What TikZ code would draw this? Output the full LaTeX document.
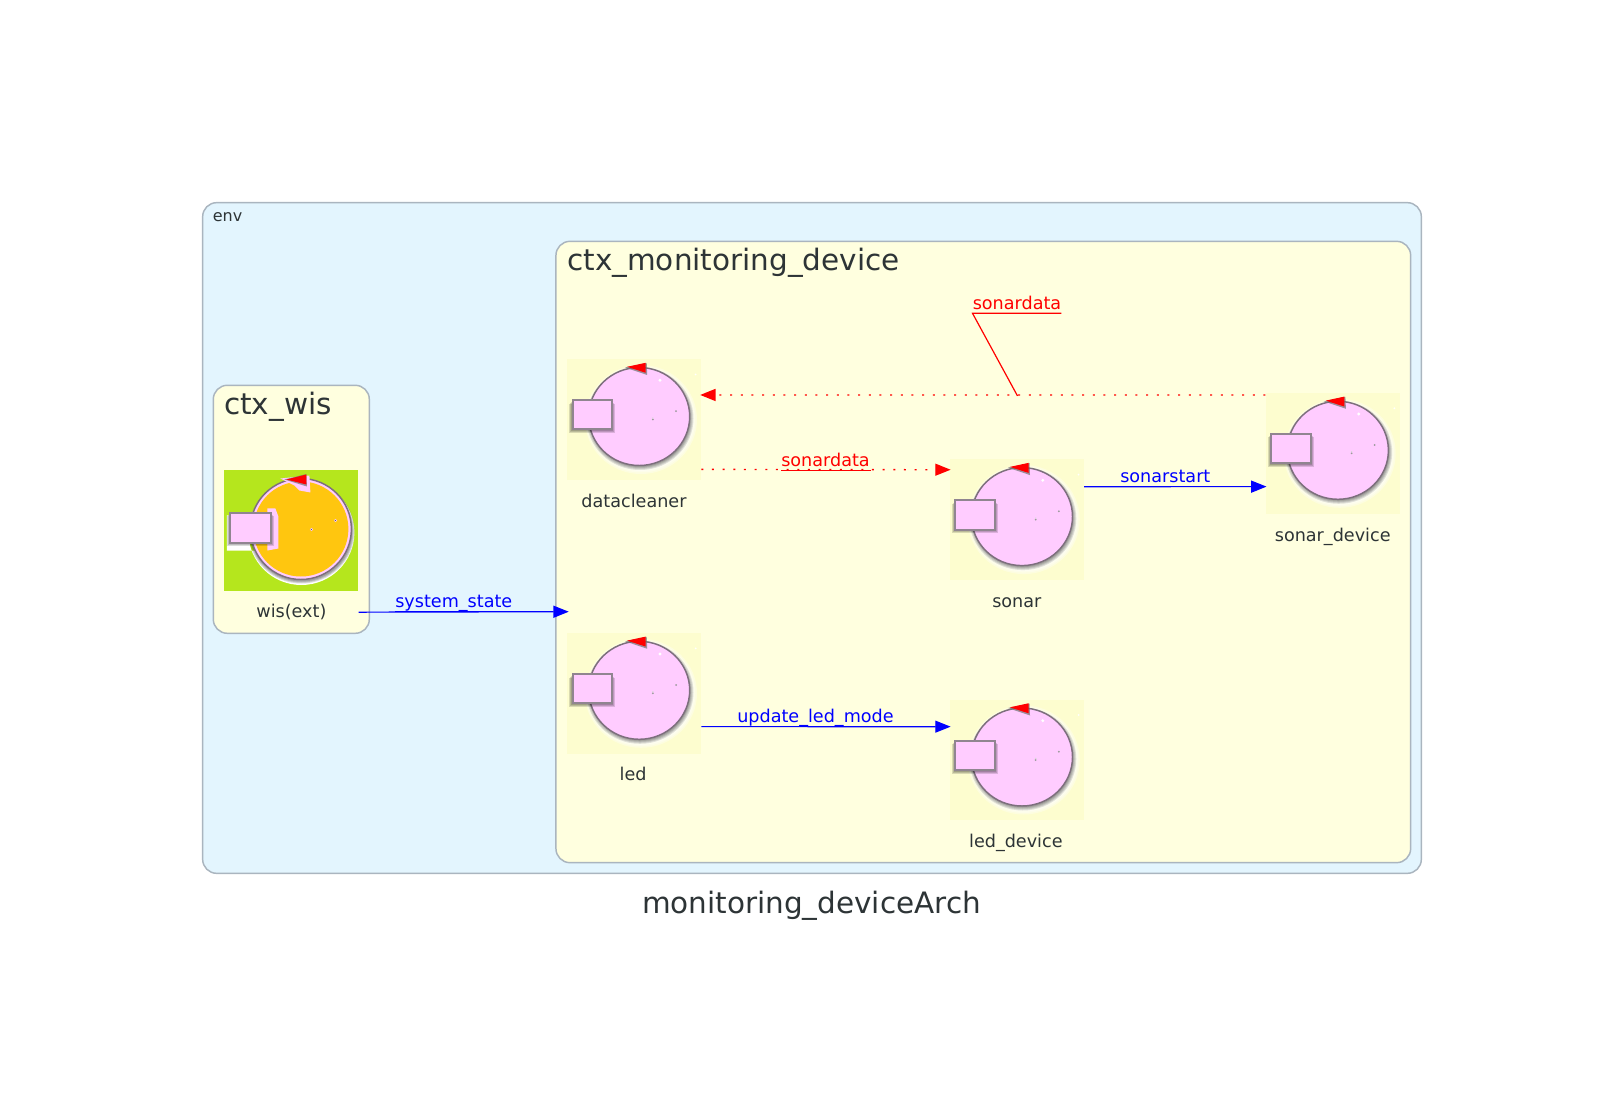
\documentclass[tikz,border=0pt]{standalone}
\usepackage{fontspec}
\setmainfont{DejaVu Sans}
\usetikzlibrary{arrows.meta}
\definecolor{envfill}{HTML}{E3F5FE}
\definecolor{ctxfill}{HTML}{FFFFDF}
\definecolor{edgegray}{HTML}{AAB5BF}
\definecolor{inktext}{HTML}{2D3436}
\definecolor{tilefill}{HTML}{FDFDCF}
\definecolor{wisgreen}{HTML}{B5E61D}
\definecolor{wisorange}{HTML}{FFC60F}
\definecolor{bodypink}{HTML}{FFCCFF}
\definecolor{ringgray}{HTML}{7D6F7D}
\tikzset{
  ctxbox/.style={draw=edgegray,line width=1.1pt,rounded corners=10.5pt},
  tilebox/.style={minimum width=100.5pt,minimum height=90.5pt,inner sep=0pt,fill=tilefill},
  caption/.style={text=inktext,font=\fontsize{13.2}{16}\selectfont,text height=10pt,text depth=3pt},
  bigtitle/.style={text=inktext,font=\fontsize{22.1}{26}\selectfont,inner sep=0pt},
  msglabel/.style={font=\fontsize{13.2}{16}\selectfont,inner sep=0pt,anchor=south west,text depth=3pt},
  pics/softglow/.style={code={
    \foreach \rad in {56,54.5,53,51.5}{\fill[white,opacity=.35] (7,0) ellipse ({\rad} and {\rad-1.5});}
    \foreach \rad in {53.5,52.5,51.5,50.5}{\fill[black,opacity=.11] (6,-1) ellipse ({\rad} and {\rad-2});}
  }},
  pics/sysicon/.style={code={
    \pic {softglow};
    \fill[#1,draw=ringgray,line width=1.1pt] (5.2,-3) ellipse (50.5 and 49);
    \fill[white] (26,-39.3) circle (1.6) (61.7,-45) circle (1);
    \fill[black!40] (18.9,0) circle (1) (42,-8.3) circle (1);
    \fill[white!85!black] (18.9,-1.5) circle (.8);
    \foreach \gap in {3.5,2.5,1.5}{\fill[black,opacity=.14] (-61.5-\gap,-19.3+\gap) rectangle (-22.2+\gap,10+\gap);}
    \fill[#1,draw=ringgray!85!white,line width=1.5pt] (-61.5,-19.3) rectangle (-22.2,10);
    \fill[black!55,opacity=.7] (-9,-52) -- (12.7,-56.5) -- (13.2,-44.5) -- cycle;
    \fill[red] (-6.9,-52.7) -- (11.7,-56.7) -- (11.7,-46.7) -- cycle;
  }},
  pics/wisicon/.style={code={
    \fill[white] (10,2) ellipse (53 and 52.5) (-64.5,-15) rectangle (-18,20);
    \foreach \rad in {53,52,51}{\fill[black,opacity=.14] (10,1) ellipse ({\rad} and {\rad-1});}
    \fill[bodypink,draw=ringgray,line width=1.1pt] (9.5,-1.5) circle (50.5);
    \fill[wisorange] (9.5,-1.5) circle (47.5);
    \fill[bodypink] (-11,-52) -- (18,-55) -- (19,-38) -- (8,-40) -- (3,-45) -- cycle;
    \fill[bodypink] (-24,-22) -- (-16,-22) -- (-13,-14) -- (-13,18) -- (-24,20) -- cycle;
    \fill[bodypink] (20,-1) circle (1.6) (44,-10) circle (1.6);
    \fill[black!60] (20,-1) circle (.7) (44,-10) circle (.7);
    \foreach \gap in {3.5,2.5,1.5}{\fill[black,opacity=.14] (-61.4-\gap,-17.8+\gap) rectangle (-20.7+\gap,12.2+\gap);}
    \fill[bodypink,draw=ringgray!85!white,line width=1.5pt] (-61.4,-17.8) rectangle (-20.7,12.2);
    \fill[black!55,opacity=.7] (-7,-51) -- (15,-56.5) -- (15.5,-44) -- cycle;
    \fill[red] (-5,-51) -- (15,-56) -- (15,-46) -- cycle;
  }}
}
\begin{document}
\begin{tikzpicture}[x=0.75pt,y=-0.75pt,node distance=62.5pt,>={Triangle[length=11.5pt,width=9pt]},shorten >=-.8pt]
  \useasboundingbox (0,0) rectangle (1624,1119);
  % clusters
  \node(envbox)[ctxbox,fill=envfill,minimum width=914pt,minimum height=503pt,inner sep=0pt] at (812,538){};
  \node(monbox)[ctxbox,fill=ctxfill,minimum width=641pt,minimum height=466pt,inner sep=0pt] at (983.3,552){};
  \node(wisbox)[ctxbox,fill=ctxfill,minimum width=117pt,minimum height=186pt,inner sep=0pt] at (291.3,509.3){};
  \node(envtitle)[text=inktext,font=\fontsize{12}{14}\selectfont,inner sep=0pt] at (227.5,217.3){env};
  \node(montitle)[bigtitle] at (733.5,263){ctx\_monitoring\_device};
  \node(wistitle)[bigtitle] at (278,406.5){ctx\_wis};
  \node(archtitle)[bigtitle] at (811.5,906){monitoring\_deviceArch};
  % actors
  \node(wis)[tilebox,fill=wisgreen] at (291.4,530.5){};
  \node(datacleaner)[tilebox] at (634,419.5){};
  \node(sonar)[tilebox] at (1016.8,519.6){};
  \node(sonardevice)[tilebox] at (1332.7,453.3){};
  \node(led)[tilebox] at (634,693.3){};
  \node(leddevice)[tilebox] at (1016.8,760){};
  \pic at (wis) {wisicon};
  \pic at (datacleaner) {sysicon=bodypink};
  \pic at (sonar) {sysicon=bodypink};
  \pic at (sonardevice) {sysicon=bodypink};
  \pic at (led) {sysicon=bodypink};
  \pic at (leddevice) {sysicon=bodypink};
  \node(wislabel)[caption,below of=wis,yshift=.4pt]{wis(ext)};
  \node(dclabel)[caption,below of=datacleaner]{datacleaner};
  \node(sonarlabel)[caption,below of=sonar]{sonar};
  \node(sdlabel)[caption,below of=sonardevice]{sonar\_device};
  \node(ledlabel)[caption,below of=led,xshift=-.7pt,yshift=.5pt]{led};
  \node(ldlabel)[caption,below of=leddevice,xshift=-.7pt,yshift=.5pt]{led\_device};
  % messages
  \coordinate(monport) at (567.7,611.7);
  \coordinate(sdjoin) at (1017,395);
  \node(statemsg)[msglabel,text=blue,text width=102pt] at (395,611.7){system\_state};
  \node(startmsg)[msglabel,text=blue,text width=81.5pt] at (1120,486.7){sonarstart};
  \node(modemsg)[msglabel,text=blue,text width=132pt] at (737,726.7){update\_led\_mode};
  \node(datamsg)[msglabel,text=red] at (781,470.5){sonardata};
  \node(eventmsg)[msglabel,text=red] at (972.5,313.3){sonardata};
  \path[->,blue,line width=.9pt] ([yshift=-15.8pt]wis.south east) edge (monport);
  \path[->,blue,line width=.9pt] ([yshift=24.7pt]sonar.east) edge ([yshift=-25pt]sonardevice.west);
  \path[->,blue,line width=.9pt] ([yshift=-25pt]led.east) edge ([yshift=25pt]leddevice.west);
  \path[->,red,line width=1pt,dash pattern=on 1.5pt off 6.5pt] ([yshift=-37.4pt]datacleaner.east) edge ([yshift=37.4pt]sonar.west);
  \path[->,red,line width=1pt,dash pattern=on 1.5pt off 6.5pt] ([yshift=43.7pt]sonardevice.west) edge ([yshift=18.4pt]datacleaner.east);
  \draw[blue,line width=1pt] (statemsg.south west) -- (statemsg.south east);
  \draw[blue,line width=1pt] (startmsg.south west) -- (startmsg.south east);
  \draw[blue,line width=1pt] (modemsg.south west) -- (modemsg.south east);
  \draw[red,line width=1pt] (datamsg.south west) -- (datamsg.south east);
  \draw[red,line width=.9pt] (eventmsg.south east) -- (eventmsg.south west) -- (sdjoin);
\end{tikzpicture}
\end{document}
